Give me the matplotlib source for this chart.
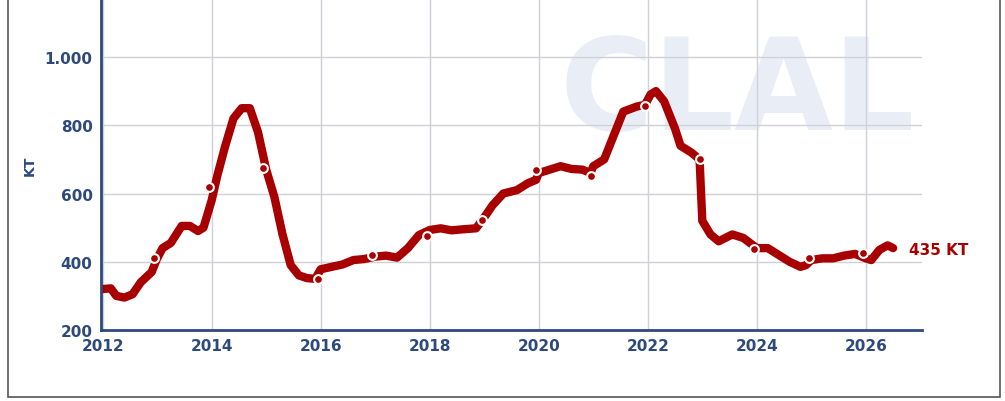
import matplotlib.pyplot as plt
from matplotlib.patches import Rectangle

years = [2012.0, 2012.15, 2012.25, 2012.4, 2012.55, 2012.7, 2012.9, 2013.0, 2013.1, 2013.25,
         2013.45, 2013.6, 2013.75, 2013.85, 2014.0, 2014.1, 2014.25, 2014.4, 2014.55, 2014.7,
         2014.85, 2015.0, 2015.15, 2015.3, 2015.45, 2015.6, 2015.75, 2015.9, 2016.0, 2016.2,
         2016.4, 2016.6, 2016.8, 2017.0, 2017.2, 2017.4, 2017.6, 2017.8, 2018.0, 2018.2,
         2018.4, 2018.6, 2018.85, 2019.0, 2019.15, 2019.35, 2019.6, 2019.8, 2019.95, 2020.0,
         2020.2, 2020.4, 2020.6, 2020.8, 2020.95, 2021.0, 2021.2, 2021.35, 2021.55, 2021.8,
         2021.95, 2022.05, 2022.15, 2022.3, 2022.5, 2022.6, 2022.8, 2022.95, 2023.0, 2023.15,
         2023.3, 2023.55, 2023.75, 2024.0, 2024.2, 2024.4, 2024.6, 2024.8, 2024.9, 2025.0,
         2025.2, 2025.4, 2025.6, 2025.8, 2026.0, 2026.1, 2026.25, 2026.4, 2026.5]
stocks = [320, 322, 300, 295, 305, 340, 370, 410, 440, 455,
          505, 505, 490, 500, 580, 650, 740, 820, 850, 850,
          780, 670, 590, 480, 390, 360, 352, 350, 378, 385,
          392, 405, 408, 415, 418, 412, 440, 478, 493, 498,
          492, 495, 498, 530, 565, 600, 610, 630, 640, 660,
          670, 680, 672, 670, 660, 680, 700, 760, 840, 855,
          860, 890, 900, 870, 790, 740, 720, 700, 520, 480,
          460, 480, 470, 440, 440, 420, 400, 385, 390, 405,
          410, 410, 418, 423, 410, 405, 435, 448, 440]

dot_years = [2012.95, 2013.95, 2014.95, 2015.95, 2016.95, 2017.95, 2018.95, 2019.95,
             2020.95, 2021.95, 2022.95, 2023.95, 2024.95, 2025.95]
dot_vals = [410, 620, 675, 350, 420, 475, 523, 670, 650, 855, 700, 437, 410, 425]

red = "#a80000"
blue = "#2e4a7d"

fig = plt.figure(figsize=(10.05, 4.02), dpi=100)
fig.patches.append(Rectangle((8 / 1005, 4 / 402), 992 / 1005, 398 / 402, transform=fig.transFigure,
                             fill=False, edgecolor="#555555", linewidth=1.2))
ax = fig.add_axes([101 / 1005, (402 - 331) / 402, (922 - 101) / 1005, 331 / 402])

ax.text(737 / 1005, (402 - 130) / 402, "CLAL", transform=fig.transFigure, fontsize=92,
        fontweight="heavy", color="#e9eef6", ha="center", va="baseline", zorder=0.5)

ax.plot(years, stocks, color=red, linewidth=6, solid_capstyle="round", solid_joinstyle="round",
        zorder=2)
ax.scatter(dot_years, dot_vals, s=40, color=red, edgecolors="white", linewidths=1.5, zorder=3)
ax.text(2026.8, 435, "435 KT", color=red, fontsize=11, fontweight="bold", va="center",
        clip_on=False)

ax.set_xlim(2011.97, 2027.03)
ax.set_ylim(200, 1170)
ax.set_xticks(range(2012, 2027, 2))
ax.set_yticks([200, 400, 600, 800, 1000])
ax.set_yticklabels(["200", "400", "600", "800", "1.000"])
ax.grid(True, color="#d0d0d8", linewidth=1, zorder=1)
ax.set_axisbelow(True)
ax.tick_params(colors=blue, labelsize=11, length=0, pad=6)
for lab in ax.get_xticklabels() + ax.get_yticklabels():
    lab.set_fontweight("bold")
for s in ["top", "right"]:
    ax.spines[s].set_visible(False)
for s in ["left", "bottom"]:
    ax.spines[s].set_color(blue)
    ax.spines[s].set_linewidth(2)
ax.set_ylabel("KT", color=blue, fontweight="bold", fontsize=10, labelpad=6)

fig.savefig("out.png", dpi=100)
